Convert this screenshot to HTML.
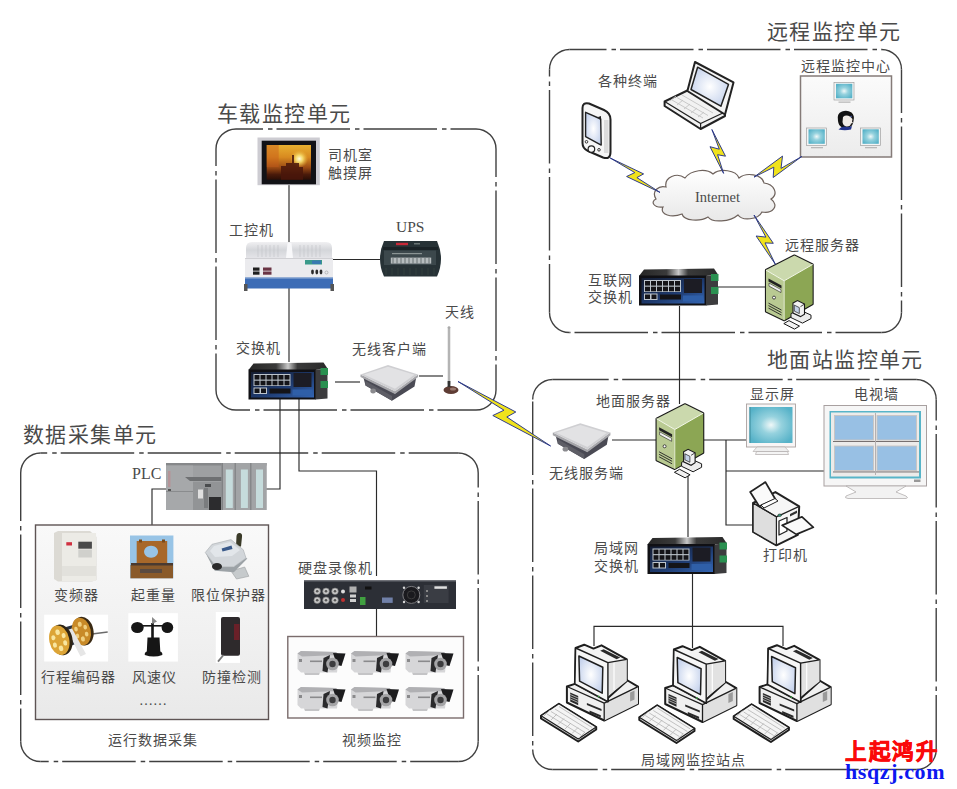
<!DOCTYPE html>
<html lang="zh-CN">
<head>
<meta charset="utf-8">
<style>
html,body{margin:0;padding:0;background:#fff;}
body{width:957px;height:789px;overflow:hidden;position:relative;font-family:"Liberation Serif",serif;}
svg{position:absolute;left:0;top:0;}
.t{font-family:"Liberation Serif",serif;fill:#4a4a4a;}
</style>
</head>
<body>
<svg width="957" height="789" viewBox="0 0 957 789">
<defs>
  <linearGradient id="gBlue" x1="0" y1="0" x2="1" y2="1">
    <stop offset="0" stop-color="#141c30"/><stop offset="0.55" stop-color="#1e3a6e"/><stop offset="1" stop-color="#3466b4"/>
  </linearGradient>
  <linearGradient id="gScreenO" x1="0" y1="0" x2="0" y2="1">
    <stop offset="0" stop-color="#e8a820"/><stop offset="0.45" stop-color="#c87818"/><stop offset="0.75" stop-color="#5a2a10"/><stop offset="1" stop-color="#2a1008"/>
  </linearGradient>
  <radialGradient id="gCyan" cx="0.5" cy="0.5" r="0.6">
    <stop offset="0" stop-color="#f0f8f8"/><stop offset="0.4" stop-color="#96d2de"/><stop offset="1" stop-color="#56b2c8"/>
  </radialGradient>
  <radialGradient id="gLcd" cx="0.5" cy="0.5" r="0.7">
    <stop offset="0" stop-color="#ffffff"/><stop offset="1" stop-color="#b8c8e8"/>
  </radialGradient>
  <linearGradient id="gPanel" x1="0" y1="0" x2="0" y2="1">
    <stop offset="0" stop-color="#f6f6f6"/><stop offset="1" stop-color="#ebebeb"/>
  </linearGradient>

  <!-- industrial switch 80x37 -->
  <linearGradient id="gTop" x1="0" y1="0" x2="1" y2="0">
    <stop offset="0" stop-color="#262626"/><stop offset="0.35" stop-color="#3a3a3a"/><stop offset="0.5" stop-color="#c8c8c8"/><stop offset="0.62" stop-color="#3a3a3a"/><stop offset="1" stop-color="#2a2a2a"/>
  </linearGradient>
  <g id="sw">
    <polygon points="0,7.5 5,1 75,0 79,6 67,7.5" fill="url(#gTop)"/>
    <rect x="0" y="7" width="67.5" height="30" fill="#101014"/>
    <rect x="2.5" y="9.5" width="63" height="25.5" fill="url(#gBlue)"/>
    <polygon points="67,7.5 79,6 79,36 67,37" fill="#3c3c3e"/>
    <rect x="72" y="5.5" width="7.5" height="7" fill="#2a9050"/>
    <rect x="72" y="18.5" width="7.5" height="7" fill="#2a9050"/>
    <g fill="#bcc4cc">
      <rect x="5" y="11.5" width="37" height="12"/>
      <rect x="5" y="25" width="13.5" height="6.5"/>
    </g>
    <g fill="#141418">
      <rect x="6" y="12.5" width="5" height="4.6"/><rect x="12" y="12.5" width="5" height="4.6"/><rect x="18" y="12.5" width="5" height="4.6"/><rect x="24" y="12.5" width="5" height="4.6"/><rect x="30" y="12.5" width="5" height="4.6"/><rect x="36" y="12.5" width="5" height="4.6"/>
      <rect x="6" y="18.2" width="5" height="4.6"/><rect x="12" y="18.2" width="5" height="4.6"/><rect x="18" y="18.2" width="5" height="4.6"/><rect x="24" y="18.2" width="5" height="4.6"/><rect x="30" y="18.2" width="5" height="4.6"/><rect x="36" y="18.2" width="5" height="4.6"/>
      <rect x="6" y="26" width="5" height="4.5"/><rect x="12.5" y="26" width="5" height="4.5"/>
      <rect x="21" y="26" width="21" height="5"/>
      <rect x="45" y="10.5" width="18" height="14" fill="#1c1c24"/>
    </g>
    <rect x="44" y="27" width="20" height="6" fill="#2f5fa8"/>
  </g>
<!-- wireless AP 60x37 -->
  <g id="ap">
    <polygon points="2.5,11 5,20.5 31.5,35.7 54,21.5 56,11 34.5,28.5" fill="#4a4a54"/>
    <polygon points="5,20.5 31.5,35.7 31.5,31 5,16" fill="#5e5e66"/>
    <polygon points="0,9.4 34.5,26.3 57.6,9.4 57.6,12 34.5,29 0,12" fill="#a6a6aa"/>
    <polygon points="0,9.4 27.5,0 57.6,9.4 34.5,26.3" fill="#cfcfd2"/>
    <polygon points="3.5,9.6 27.5,1.8 54,9.8 34.5,23.8" fill="#e2e2e4"/>
    <ellipse cx="12.6" cy="26" rx="2.8" ry="2.4" fill="#8a8a8e"/>
  </g>
<!-- green server 47x70 -->
  <g id="srv">
    <polygon points="0,14.5 28.4,0 46.6,8.9 46.6,48.4 18.2,64.6 0,56" fill="#9cb070" stroke="#1a1a1a" stroke-width="2.2" stroke-linejoin="round"/>
    <polygon points="0,14.5 28.4,0 46.6,8.9 18.2,25.2" fill="#cbd9ad"/>
    <polygon points="0,14.5 18.2,25.2 18.2,64.6 0,56" fill="#b9ca92"/>
    <polygon points="18.2,25.2 46.6,8.9 46.6,48.4 18.2,64.6" fill="#8ca654"/>
    <polyline points="0,14.5 18.2,25.2 46.6,8.9" fill="none" stroke="#f4f8ea" stroke-width="1"/>
    <line x1="18.2" y1="25.2" x2="18.2" y2="64.6" stroke="#f4f8ea" stroke-width="0.8"/>
    <polygon points="2.5,23 15.5,30 15.5,33 2.5,26" fill="#222"/>
    <polygon points="3,27.5 15,34 15,37 3,30.5" fill="#f2f2f2" stroke="#222" stroke-width="0.6"/>
    <circle cx="8" cy="42" r="1.5" fill="#fff" stroke="#222" stroke-width="0.8"/>
    <g stroke="#222" stroke-width="0.9">
      <line x1="2.5" y1="47.5" x2="15.5" y2="54.5"/><line x1="2.5" y1="50" x2="15.5" y2="57"/><line x1="2.5" y1="52.5" x2="15.5" y2="59.5"/>
    </g>
    <!-- mini pc -->
    <polygon points="25,58 33,54 45,59.5 45,63 36.5,67.5 25,62" fill="#ececec" stroke="#1a1a1a" stroke-width="1"/>
    <polygon points="27,47.5 31.5,45 38.5,48.5 38.5,58.5 34.5,61 27,57.5" fill="#f2f2f2" stroke="#1a1a1a" stroke-width="1.1"/>
    <polygon points="28.3,49.5 33.3,52 33.3,58 28.3,55.5" fill="#c4d2e8" stroke="#1a1a1a" stroke-width="0.7"/>
    <line x1="34.5" y1="51" x2="38.5" y2="48.5" stroke="#1a1a1a" stroke-width="0.8"/>
    <polygon points="17.8,68 23,65 33.5,70.5 28.5,73.5" fill="#f2f2f2" stroke="#1a1a1a" stroke-width="1"/>
  </g>

  <!-- CRT PC + keyboard -->
  <g id="pc" stroke-linejoin="round">
    <!-- base unit -->
    <polygon points="31.9,46.5 39.9,43.9 91.8,40 103,46.6 103,63.8 69.2,80.5 31.9,62.5" fill="#f0f0f0" stroke="#1e1e1e" stroke-width="2"/>
    <polygon points="69.2,63.2 103,46.6 103,63.8 69.2,80.5" fill="#e0e0e0"/>
    <polyline points="31.9,46.5 69.2,63.2 103,46.6" fill="none" stroke="#1e1e1e" stroke-width="1.3"/>
    <line x1="69.2" y1="63.2" x2="69.2" y2="80.5" stroke="#1e1e1e" stroke-width="1.3"/>
    <polygon points="35.2,52.5 43.2,56 43.2,65.2 35.2,61.6" fill="#2a2a2a"/>
    <g stroke="#ddd" stroke-width="0.7"><line x1="35.2" y1="54.5" x2="43.2" y2="58"/><line x1="35.2" y1="56.8" x2="43.2" y2="60.3"/><line x1="35.2" y1="59" x2="43.2" y2="62.5"/></g>
    <polygon points="51.9,63 66.5,69 66.5,71 51.9,65" fill="#2a2a2a"/>
    <polygon points="54.5,70.5 65.8,75.2 65.8,77.5 54.5,72.8" fill="#2a2a2a"/>
    <polygon points="95.1,52.5 99.5,50.5 99.5,59.5 95.1,61.5" fill="#9a9a9a"/>
    <!-- monitor -->
    <polygon points="40.6,8 49.2,4.7 58.5,8.6 66.5,5.3 91.8,19.3 91.8,41 72.9,58 72.9,61.5 39.9,43.9" fill="#f4f4f4" stroke="#1e1e1e" stroke-width="2"/>
    <polygon points="72.9,22.6 91.8,19.3 91.8,41 72.9,56" fill="#e2e2e2"/>
    <line x1="79" y1="22" x2="79" y2="50" stroke="#fff" stroke-width="1.2"/>
    <polygon points="40.6,8 72.9,22.6 72.9,61.5 39.9,43.9" fill="#f6f6f6" stroke="#1e1e1e" stroke-width="1.4"/>
    <polygon points="43.9,16 67.8,27.3 67.2,53.2 44.6,41.2" fill="url(#gLcd)" stroke="#1e1e1e" stroke-width="1.5"/>
    <polygon points="65.2,10.8 68.6,9.2 85.2,17.6 81.6,19.3" fill="#2a2a2a"/>
    <line x1="72.9" y1="22.6" x2="91.8" y2="19.3" stroke="#1e1e1e" stroke-width="1.2"/>
    <circle cx="63.6" cy="56.5" r="0.9" fill="#3a9a40"/>
    <!-- keyboard -->
    <polygon points="6,75.8 23.9,63.8 61.2,87.1 61.2,89.5 43.2,101.5 6,78.5" fill="#d8d8d8" stroke="#1e1e1e" stroke-width="2"/>
    <polygon points="6,75.8 23.9,63.8 61.2,87.1 43.2,99" fill="#f4f4f4" stroke="#1e1e1e" stroke-width="1.2"/>
    <g stroke="#b4b4b4" stroke-width="0.8" fill="none">
      <path d="M12,74 L46,95 M16,71.5 L50,92.5 M20,69 L54,90 M24,66.5 L57,87.5"/>
      <path d="M15,70 L9,76 M22,74 L16,80 M29,78.5 L23,84.5 M36,83 L30,89 M43,87.5 L37,93.5 M50,92 L44,98"/>
    </g>
  </g>
</defs>

<!-- unit boxes -->
<g fill="none" stroke="#404040" stroke-width="1.4">
  <path d="M216,149 A20,20 0 0 1 236,129 M476,129 A20,20 0 0 1 496,149 M496,390 A20,20 0 0 1 476,410 M236,410 A20,20 0 0 1 216,390"/>
  <path d="M236,129 L476,129" stroke-dasharray="73.5 5 4.5 4" stroke-dashoffset="46.5"/>
  <path d="M496,149 L496,390" stroke-dasharray="73.5 5 4.5 4" stroke-dashoffset="45.5"/>
  <path d="M236,410 L476,410" stroke-dasharray="73.5 5 4.5 4" stroke-dashoffset="59.5"/>
  <path d="M216,149 L216,390" stroke-dasharray="73.5 5 4.5 4" stroke-dashoffset="56.5"/>
  <path d="M549.5,69.5 A20,20 0 0 1 569.5,49.5 M881.5,49.5 A20,20 0 0 1 901.5,69.5 M901.5,312.5 A20,20 0 0 1 881.5,332.5 M569.5,332.5 A20,20 0 0 1 549.5,312.5"/>
  <path d="M569.5,49.5 L881.5,49.5" stroke-dasharray="73.5 5 4.5 4" stroke-dashoffset="36.5"/>
  <path d="M901.5,69.5 L901.5,312.5" stroke-dasharray="73.5 5 4.5 4" stroke-dashoffset="30.0"/>
  <path d="M569.5,332.5 L881.5,332.5" stroke-dasharray="73.5 5 4.5 4" stroke-dashoffset="82.0"/>
  <path d="M549.5,69.5 L549.5,312.5" stroke-dasharray="73.5 5 4.5 4" stroke-dashoffset="66.5"/>
  <path d="M532.7,399.5 A20,20 0 0 1 552.7,379.5 M916.2,379.5 A20,20 0 0 1 936.2,399.5 M936.2,749.5 A20,20 0 0 1 916.2,769.5 M552.7,769.5 A20,20 0 0 1 532.7,749.5"/>
  <path d="M552.7,379.5 L916.2,379.5" stroke-dasharray="73.5 5 4.5 4" stroke-dashoffset="17.5"/>
  <path d="M936.2,399.5 L936.2,749.5" stroke-dasharray="73.5 5 4.5 4" stroke-dashoffset="52.5"/>
  <path d="M552.7,769.5 L916.2,769.5" stroke-dasharray="73.5 5 4.5 4" stroke-dashoffset="28.5"/>
  <path d="M532.7,399.5 L532.7,749.5" stroke-dasharray="73.5 5 4.5 4" stroke-dashoffset="85.0"/>
  <path d="M20.7,473 A20,20 0 0 1 40.7,453 M458.2,453 A20,20 0 0 1 478.2,473 M478.2,741.5 A20,20 0 0 1 458.2,761.5 M40.7,761.5 A20,20 0 0 1 20.7,741.5"/>
  <path d="M40.7,453 L458.2,453" stroke-dasharray="73.5 5 4.5 4" stroke-dashoffset="67.0"/>
  <path d="M478.2,473 L478.2,741.5" stroke-dasharray="73.5 5 4.5 4" stroke-dashoffset="58.9"/>
  <path d="M40.7,761.5 L458.2,761.5" stroke-dasharray="73.5 5 4.5 4" stroke-dashoffset="65.5"/>
  <path d="M20.7,473 L20.7,741.5" stroke-dasharray="73.5 5 4.5 4" stroke-dashoffset="25.5"/>
</g>
<!-- connection lines -->
<g fill="none" stroke="#2a2a2a" stroke-width="1.15">
  <path d="M289 184V362"/>
  <path d="M333 259.5H380"/>
  <path d="M335 382H360"/>
  <path d="M419 376H443"/>
  <path d="M280 399V489H266"/>
  <path d="M166 489H152V525"/>
  <path d="M299 399V471H376.5V576"/>
  <path d="M376.5 609V636.5"/>
  <path d="M717 287H766"/>
  <path d="M679.5 306V404"/>
  <path d="M612 440H656"/>
  <path d="M702 440H746"/>
  <path d="M726 440V525H752"/>
  <path d="M726 471H824"/>
  <path d="M688 474V537"/>
  <path d="M692.5 574V648"/>
  <path d="M594 646V626.3H783V646"/>
</g>

<!-- DEVICES -->
<use href="#sw" x="248.5" y="362.5"/>
<use href="#sw" x="639" y="268.5"/>
<use href="#sw" x="647.5" y="537"/>
<use href="#ap" x="360.5" y="365"/>
<use href="#ap" x="552.8" y="423.2"/>
<use href="#srv" x="656.6" y="404.3"/>
<use href="#srv" x="766" y="255.6"/>
<use href="#pc" x="535" y="640"/>
<use href="#pc" x="633.3" y="641.5"/>
<use href="#pc" x="727.7" y="640.5"/>

<!-- touchscreen -->
<defs>
  <linearGradient id="gTS" x1="0" y1="0" x2="0" y2="1">
    <stop offset="0" stop-color="#e8b030"/><stop offset="0.35" stop-color="#d88a20"/><stop offset="0.65" stop-color="#9a4a14"/><stop offset="0.85" stop-color="#4a1a0a"/><stop offset="1" stop-color="#2a0e06"/>
  </linearGradient>
  <radialGradient id="gSun" cx="0.5" cy="0.5" r="0.5"><stop offset="0" stop-color="#fffce0"/><stop offset="0.4" stop-color="#f8e070" stop-opacity="0.9"/><stop offset="1" stop-color="#e8b030" stop-opacity="0"/></radialGradient>
</defs>
<g>
  <rect x="257.5" y="137.5" width="62.3" height="47.7" fill="#cdccd2"/>
  <rect x="261.7" y="140.7" width="54.3" height="43.6" fill="#121216"/>
  <rect x="266.7" y="145" width="44.3" height="34.7" fill="url(#gTS)"/>
  <rect x="266.7" y="145" width="12" height="22" fill="#c85a1a" opacity="0.45"/>
  <circle cx="299.3" cy="158.8" r="9" fill="url(#gSun)"/>
  <path d="M281,179.7 V166 h5 v-3 h6 v-8 h2 v8 h5 v4 h4 v12.7z" fill="#4a160a" opacity="0.85"/>
</g>
<!-- IPC -->
<defs>
  <linearGradient id="gIpcTop" x1="0" y1="0" x2="0" y2="1"><stop offset="0" stop-color="#f0f0f2"/><stop offset="0.5" stop-color="#d4d6da"/><stop offset="1" stop-color="#e4e4e8"/></linearGradient>
</defs>
<g>
  <path d="M246,258 V248 Q246,242 252,242 H326 Q332,242 332,248 V258Z" fill="url(#gIpcTop)"/>
  <g stroke="#c4c6ca" stroke-width="0.7"><path d="M258,245v12 M262,245v12 M266,245v12 M270,245v12 M274,245v12 M278,245v12 M300,245v12 M304,245v12 M308,245v12 M312,245v12 M316,245v12 M320,245v12"/></g>
  <path d="M286,258 L287.5,243 H291.5 L293,258Z" fill="#f8f8fa"/>
  <rect x="245" y="258" width="88" height="20" fill="#ebebee"/>
  <rect x="245" y="258" width="88" height="1" fill="#d0d0d4"/>
  <rect x="245" y="277.5" width="88" height="11" fill="#3c6cb6"/>
  <rect x="245" y="277.5" width="88" height="1" fill="#9ab4d8"/>
  <rect x="244" y="284" width="3.5" height="7" fill="#555"/><rect x="330.5" y="284" width="3.5" height="7" fill="#555"/>
  <rect x="253" y="267.5" width="6.5" height="3.2" fill="#1e1e1e"/><rect x="253" y="271.5" width="6.5" height="3.2" fill="#1e1e1e"/>
  <rect x="263" y="267.5" width="8.5" height="3.2" fill="#6a3444"/><rect x="263" y="271.5" width="8.5" height="3.2" fill="#6a3444"/>
  <rect x="305" y="260" width="17" height="4.5" fill="#3a9a8a"/>
  <rect x="312" y="260.5" width="9" height="3.5" fill="#3a7ab0"/>
  <ellipse cx="312.5" cy="272" rx="1.4" ry="2.4" fill="#2a2a2a"/><ellipse cx="316.8" cy="272" rx="1.4" ry="2.4" fill="#2a2a2a"/><ellipse cx="321" cy="272" rx="1.4" ry="2.4" fill="#2a2a2a"/>
  <circle cx="326.5" cy="272.5" r="1.5" fill="none" stroke="#999" stroke-width="0.6"/>
</g>
<!-- UPS -->
<g>
  <path d="M384,241 H437 Q441,250 441,258.5 Q441,268 437,276.5 H384 Q380,268 380,258.5 Q380,250 384,241Z" fill="#273236"/>
  <rect x="383" y="247" width="55" height="3" fill="#1a2226"/>
  <rect x="384" y="250.5" width="52" height="14.5" fill="#3c484c"/>
  <rect x="390.8" y="257.6" width="40.4" height="6" fill="#b6bcbe"/>
  <g stroke="#56605f" stroke-width="0.8"><path d="M393,258v5.5 M397,258v5.5 M401,258v5.5 M405,258v5.5 M409,258v5.5 M413,258v5.5 M417,258v5.5 M421,258v5.5 M425,258v5.5 M429,258v5.5"/></g>
  <rect x="392" y="253" width="30" height="1.2" fill="#8a9494"/>
  <rect x="396" y="242.8" width="12" height="2.4" fill="#c82838"/>
  <rect x="414" y="243" width="6" height="1.5" fill="#6a7474"/>
  <g stroke="#36423f" stroke-width="0.8"><path d="M386,268v7 M392,268v7 M398,268v7 M404,268v7 M410,268v7 M416,268v7 M422,268v7 M428,268v7 M434,268v7"/></g>
</g>
<!-- antenna -->
<g>
  <rect x="447.8" y="327" width="2.4" height="57" fill="#9a9a9a"/>
  <rect x="448.6" y="327" width="0.8" height="57" fill="#dcdcdc"/>
  <circle cx="449" cy="327.5" r="1.3" fill="#aaa"/>
  <ellipse cx="451" cy="390" rx="7.5" ry="4" fill="#5e3c34"/>
  <ellipse cx="453" cy="389" rx="3" ry="1.5" fill="#9a7a70"/>
  <rect x="447.6" y="381" width="2.8" height="6" fill="#333"/>
</g>
<!-- PLC -->
<g>
  <rect x="166" y="463" width="100.5" height="47" fill="#9ea0a2"/>
  <rect x="166" y="463" width="100.5" height="2.5" fill="#86888a"/>
  <rect x="166" y="465.5" width="27" height="44.5" fill="#a6a8aa"/>
  <rect x="168" y="471" width="2.5" height="16" fill="#b49498"/>
  <rect x="168" y="489" width="3" height="3" fill="#555"/>
  <rect x="166" y="491" width="30" height="1" fill="#8a8c8e"/>
  <polygon points="185,477 222,477 222,481 190,481" fill="#6e7072"/>
  <rect x="193" y="482" width="29" height="28" fill="#929496"/>
  <rect x="198" y="489.5" width="5" height="9" fill="#e0e0e0"/>
  <rect x="204" y="488" width="4" height="20" fill="#7a7c7e"/>
  <rect x="209" y="497" width="12" height="13" fill="#2c2c2e"/>
  <rect x="205" y="484" width="6" height="3" fill="#4a4c4e"/>
  <rect x="221.5" y="463" width="45" height="47" fill="#a2a4a6"/>
  <rect x="225.8" y="469.5" width="7" height="38.5" fill="#c6dcdc"/>
  <rect x="240.9" y="469.5" width="7" height="38.5" fill="#c6dcdc"/>
  <rect x="256" y="469.5" width="7" height="38.5" fill="#c6dcdc"/>
  <rect x="234.5" y="463" width="1.5" height="47" fill="#86888a"/><rect x="250" y="463" width="1.5" height="47" fill="#86888a"/>
  <rect x="221.5" y="463" width="1.5" height="47" fill="#808284"/>
</g>
<!-- DVR -->
<g>
  <rect x="304" y="580.5" width="152" height="28.5" fill="#2c2f36"/>
  <rect x="304" y="580.5" width="152" height="1.5" fill="#4a4d54"/>
  <g fill="#c8c8c8" stroke="#777" stroke-width="0.6"><circle cx="317.2" cy="591.3" r="3.3"/><circle cx="326" cy="591.3" r="3.3"/><circle cx="335" cy="591.3" r="3.3"/><circle cx="317.2" cy="600.2" r="3.3"/><circle cx="326" cy="600.2" r="3.3"/><circle cx="335" cy="600.2" r="3.3"/></g>
  <g fill="#555"><circle cx="317.2" cy="591.3" r="1.3"/><circle cx="326" cy="591.3" r="1.3"/><circle cx="335" cy="591.3" r="1.3"/><circle cx="317.2" cy="600.2" r="1.3"/><circle cx="326" cy="600.2" r="1.3"/><circle cx="335" cy="600.2" r="1.3"/></g>
  <circle cx="343" cy="591.5" r="2" fill="#ddd"/><circle cx="343" cy="600" r="2" fill="#c03030"/>
  <rect x="349.5" y="586.5" width="7" height="6" fill="#b0b0b0"/>
  <rect x="350" y="594.5" width="6" height="3" fill="#d0d0d0"/><rect x="350" y="599" width="6" height="3" fill="#d0d0d0"/>
  <rect x="360" y="597" width="5.5" height="8" fill="#40a040"/>
  <rect x="365" y="586.5" width="6.5" height="3" fill="#111"/>
  <rect x="382" y="597.5" width="10.7" height="5.4" fill="#7080a8"/>
  <circle cx="411.3" cy="594.9" r="8.5" fill="#1a1a1e" stroke="#7a7a7e" stroke-width="1"/>
  <circle cx="411.3" cy="594.9" r="4" fill="none" stroke="#444" stroke-width="0.8"/>
  <g fill="#d8d8d8"><circle cx="404" cy="587.8" r="1.2"/><circle cx="418.6" cy="587.8" r="1.2"/><circle cx="404" cy="602" r="1.2"/><circle cx="418.6" cy="602" r="1.2"/></g>
  <rect x="423.8" y="585" width="24.8" height="18" fill="#3a3d44"/>
  <rect x="434.4" y="586.3" width="12.5" height="2.5" fill="#e0e0e0"/>
  <rect x="426" y="590" width="2" height="2" fill="#888"/><rect x="426" y="595" width="2" height="2" fill="#888"/><rect x="426" y="600" width="2" height="2" fill="#888"/>
</g>
<!-- camera panel -->
<g>
  <rect x="287.8" y="636.5" width="175.7" height="81.5" fill="#fcfcfc" stroke="#7a6c6c" stroke-width="1.4"/>
  <g id="cam">
    <polygon points="297.5,653.5 301,651 336,652 339,655 337,672.5 301,672.5 297.5,669" fill="#d6d6d8"/>
    <polygon points="297.5,653.5 301,651 336,652 339,655 302,656.5" fill="#b0b0b3"/>
    <rect x="310" y="660.5" width="12" height="1.6" fill="#8a8a8c"/>
    <rect x="299" y="659" width="3" height="3" fill="#8a8a8c"/>
    <polygon points="304,672.5 320,672.5 319,675 305,675" fill="#c4c4c6"/>
    <polygon points="333,653 345.5,653.5 341.5,666 337,665" fill="#1c1c1e"/>
    <polygon points="323.5,658 330,655 327.5,672.5 322.5,671" fill="#2a2a2c"/>
    <circle cx="332.5" cy="664" r="6.3" fill="#a4a4a6"/>
    <circle cx="332.5" cy="664" r="3.2" fill="#3c3c3e"/>
  </g>
  <use href="#cam" x="53.5" y="0"/><use href="#cam" x="108" y="0"/>
  <use href="#cam" x="0" y="36"/><use href="#cam" x="53.5" y="36"/><use href="#cam" x="108" y="36"/>
</g>
<!-- sensors panel -->
<defs>
  <linearGradient id="gPanel3" x1="0" y1="0" x2="0" y2="1"><stop offset="0" stop-color="#f9f9f9"/><stop offset="0.6" stop-color="#f0f0f0"/><stop offset="1" stop-color="#e9e9e9"/></linearGradient>
  <radialGradient id="gGold" cx="0.45" cy="0.4" r="0.6"><stop offset="0" stop-color="#f8d870"/><stop offset="0.7" stop-color="#d49a28"/><stop offset="1" stop-color="#8a5a10"/></radialGradient>
</defs>
<g>
  <rect x="35.5" y="525" width="233" height="194.5" fill="url(#gPanel3)" stroke="#5e5454" stroke-width="1.4"/>
  <!-- inverter -->
  <polygon points="54,533 58,531 90,531 96.5,537 96.5,580 92,581.5 58,581.5 54,579" fill="#dcdad4"/>
  <rect x="62" y="533" width="34" height="48" fill="#ecebe6"/>
  <rect x="78.3" y="541.7" width="13.6" height="7" fill="#4a4a4a"/>
  <rect x="78.3" y="549.5" width="13.6" height="8" fill="#d0d0cc"/>
  <rect x="66.3" y="542.2" width="5.7" height="3.3" fill="#d03040"/>
  <rect x="62" y="566" width="34" height="10" fill="#e2e1dc"/>
  <!-- load sensor -->
  <rect x="130" y="535.5" width="43.4" height="42.8" fill="#98c4e6"/>
  <path d="M136.7,541 h30.5 v24.4 h-30.5z M151,545.8 a7,6 0 1,0 0.1,0z" fill="#a8682a" fill-rule="evenodd"/>
  <rect x="139" y="539.5" width="3" height="3" fill="#7a4a1a"/><rect x="162" y="539.5" width="3" height="3" fill="#7a4a1a"/>
  <rect x="130.5" y="565" width="42.5" height="13.3" fill="#8a5a2a"/>
  <rect x="140" y="569" width="22" height="4" fill="#5a4a40"/>
  <rect x="131" y="563" width="42" height="2.5" fill="#4a3a30"/>
  <!-- limit switch -->
  <path d="M236,546.5 L236.5,536 Q237,532.5 240,533 Q242.5,533.5 242,537 L241,546.5z" fill="#3a3a28"/>
  <polygon points="231,571 244.7,567 248.8,576.3 236.5,579" fill="#c6cacc" stroke="#9a9ea0" stroke-width="0.6"/>
  <polygon points="205.3,552.5 214.8,570.8 233.8,572.2 247.4,558.6 246,558 233.8,566.8 216.2,566.8" fill="#9ca2a6"/>
  <polygon points="205.3,552.5 212,544.3 231,539.6 243.3,549.8 246,558 233.8,566.8 216.2,566.8" fill="#d2d6da" stroke="#a8acb0" stroke-width="0.6"/>
  <polygon points="210,551 214,546 230,542 240,550 232,556 215,557" fill="#e2e6ea"/>
  <polygon points="221.6,548.5 231.5,545.5 232.5,549 222.5,551.5" fill="#3a5a8a"/>
  <ellipse cx="217" cy="566.5" rx="5" ry="3.6" fill="#2a2a2a"/>
  <!-- encoder -->
  <rect x="44.2" y="614.7" width="63.9" height="46.8" fill="#ffffff"/>
  <line x1="88" y1="634.5" x2="107.7" y2="632" stroke="#6a6a6a" stroke-width="1.4"/>
  <polygon points="66,627 80,623 84,641 70,646" fill="#2a3240"/>
  <g transform="rotate(-12 81.8 631.4)">
    <ellipse cx="83" cy="631.4" rx="10.5" ry="14.5" fill="#3a2a14"/>
    <ellipse cx="81.3" cy="631.4" rx="9.5" ry="14" fill="#c88a28"/>
    <g fill="#f0d080"><ellipse cx="81.3" cy="624" rx="2" ry="2.6"/><ellipse cx="86" cy="628" rx="1.8" ry="2.4"/><ellipse cx="86" cy="635" rx="1.8" ry="2.4"/><ellipse cx="81.3" cy="639" rx="2" ry="2.6"/><ellipse cx="76.6" cy="635" rx="1.8" ry="2.4"/><ellipse cx="76.6" cy="628" rx="1.8" ry="2.4"/></g>
  </g>
  <polygon points="67,630 72,628.5 86,654 80.5,656.5" fill="#e6e6e6"/>
  <g transform="rotate(-12 59.6 640.2)">
    <ellipse cx="61.5" cy="640.2" rx="11" ry="15.5" fill="#2e2414"/>
    <ellipse cx="59.3" cy="640.2" rx="10" ry="15" fill="#dca436"/>
    <g fill="#f8e6a0"><ellipse cx="59.3" cy="632" rx="2.2" ry="2.8"/><ellipse cx="64.5" cy="636.5" rx="2" ry="2.6"/><ellipse cx="64.5" cy="644" rx="2" ry="2.6"/><ellipse cx="59.3" cy="648.5" rx="2.2" ry="2.8"/><ellipse cx="54" cy="644" rx="2" ry="2.6"/><ellipse cx="54" cy="636.5" rx="2" ry="2.6"/></g>
  </g>
<!-- anemometer -->
  <rect x="128.3" y="613.2" width="49.6" height="48.4" fill="#ffffff"/>
  <g fill="#161616">
    <ellipse cx="137.4" cy="627.5" rx="6.3" ry="5.6"/>
    <ellipse cx="167.4" cy="627.5" rx="5.8" ry="5.6"/>
    <rect x="140" y="625" width="25" height="1.6"/>
    <rect x="151.2" y="623" width="2.6" height="15"/>
    <path d="M147.5,637.5 h12 l0.8,14 q2.5,1 2,3.5 q-8.5,3 -17.5,0 q-0.5,-2.5 2,-3.5z"/>
  </g>
  <polygon points="152,617 157,621.5 152,624" fill="#8a8a8a"/>
  <!-- photo sensor -->
  <rect x="215.8" y="612" width="24.2" height="50.9" fill="#ffffff"/>
  <rect x="221" y="617.1" width="19" height="38.6" rx="2" fill="#2e2a2c"/>
  <rect x="234" y="624" width="5.5" height="16" fill="#6a2028"/>
  <path d="M223.5,655 L218,661.6" stroke="#777" stroke-width="1.8"/>
</g>
<!-- desktop monitor -->
<g>
  <rect x="746.5" y="404" width="49" height="43" fill="#f8f6f6" stroke="#aaa2a0" stroke-width="0.9"/>
  <rect x="749.5" y="407" width="43" height="36" fill="url(#gCyan)"/>
  <rect x="749.5" y="407" width="1" height="36" fill="#3a8a9a"/>
  <polygon points="757,447 785,447 789,451.5 753,451.5" fill="#eeeeee" stroke="#b8b2b0" stroke-width="0.7"/>
  <polygon points="756.5,451.5 787.5,451.5 788.5,454.5 755.5,454.5" fill="#f4f4f4" stroke="#b0aaaa" stroke-width="0.7"/>
</g>
<!-- TV wall -->
<g>
  <rect x="824" y="405.5" width="102.5" height="80.5" fill="#f6f6f6" stroke="#a8a0a0" stroke-width="1"/>
  <rect x="829.5" y="411" width="91.5" height="67.5" fill="#58b4c8"/>
  <rect x="831" y="412.5" width="88" height="64" fill="#ecebea"/>
  <g fill="#98c0e4" stroke="#c8c4c2" stroke-width="0.9">
    <rect x="834.5" y="415.5" width="39" height="24.5"/><rect x="877" y="415.5" width="39.5" height="24.5"/>
    <rect x="834.5" y="446" width="39" height="24.5"/><rect x="877" y="446" width="39.5" height="24.5"/>
  </g>
  <g fill="#6a6262"><rect x="833" y="441" width="42" height="0.9"/><rect x="876" y="441" width="43" height="0.9"/><rect x="833" y="471.5" width="42" height="0.9"/><rect x="876" y="471.5" width="43" height="0.9"/></g>
  <rect x="875.2" y="413" width="0.8" height="62" fill="#a8a2a2"/>
  <rect x="914" y="479.5" width="6.5" height="2.5" fill="#999"/>
  <path d="M846,486 L856,492 L846,496 Q844,498 848,498.5 H906 Q909,498 906,496 L896,492 L906,486Z" fill="#f2f2f2" stroke="#b4b0b0" stroke-width="0.8"/>
</g>
<!-- printer -->
<g stroke="#222" stroke-linejoin="round">
  <polygon points="753.1,503 775.4,492.1 799.2,506.4 797.8,534.9 776.4,545.3 753.1,532" fill="#f6f6f6" stroke-width="2"/>
  <polygon points="753.1,503 776.4,516.8 776.4,545.3 753.1,532" fill="#dedede" stroke-width="1.2"/>
  <polyline points="753.1,503 776.4,516.8 799.2,506.4" fill="none" stroke-width="1.3"/>
  <polygon points="779,521 787,517.5 787,531 779,535" fill="#fff" stroke-width="1.3"/>
  <polygon points="750.2,492.1 765.4,482.1 775.4,499.2 759.3,506.4" fill="#fafafa" stroke-width="1.8"/>
  <polygon points="761,505 775,498.5 778,501 764,508" fill="#fff" stroke-width="1"/>
  <polygon points="782.1,525.4 802,516.8 813.4,527.3 796.3,534.4" fill="#fafafa" stroke-width="1.7"/>
  <polygon points="790,514 797,510.5 797,513 790,516.5" fill="#333" stroke="none"/>
  <ellipse cx="779.7" cy="515.2" rx="1.8" ry="1.2" fill="#3aa080" stroke="#222" stroke-width="0.6"/>
</g>
<!-- cloud -->
<defs><linearGradient id="gCloud" x1="0" y1="0" x2="0" y2="1"><stop offset="0" stop-color="#ffffff"/><stop offset="1" stop-color="#e8e8e8"/></linearGradient></defs>
<path d="M656,199 C651,191 659,185 666,187 C664,177 677,172 685,178 C691,170 706,168 713,174 C720,168 736,170 739,178 C746,172 762,174 764,183 C774,184 779,194 771,199 C780,206 772,214 762,212 C758,220 742,221 738,215 C730,222 712,223 708,217 C700,222 684,221 682,214 C672,218 659,215 663,207 C654,208 650,202 656,199Z" fill="url(#gCloud)" stroke="#6e625c" stroke-width="1.2"/>
<!-- laptop -->
<g stroke="#222" stroke-linejoin="round">
  <polygon points="664.6,101.5 687.4,90.5 725,112 725,116 700.6,129 664.6,106" fill="#f2f2f2" stroke-width="2"/>
  <polyline points="664.6,101.5 700.6,123.5 725,112" fill="none" stroke-width="1.3"/>
  <line x1="700.6" y1="123.5" x2="700.6" y2="129" stroke-width="1.2"/>
  <g stroke="#c4c4c4" stroke-width="0.9" fill="none">
    <path d="M672,100 L703,118 M677,97.5 L708,115.5 M682,95 L713,113"/>
    <path d="M676,96 L670,101 M683,100 L677,105 M690,104 L684,109 M697,108 L691,113 M704,112 L698,117"/>
  </g>
  <polygon points="695,62 733.5,82.4 725,114.5 687.4,91" fill="#f4f4f4" stroke-width="2"/>
  <polygon points="697.6,67.2 728.5,84.4 720.9,106.2 691,89.5" fill="url(#gLcd)" stroke-width="1.5"/>
</g>
<!-- PDA -->
<g stroke="#222" stroke-linejoin="round">
  <path d="M582.5,108 Q582.5,102 589,103.5 L604,110 Q610.5,113 610.5,119.5 L610.5,152 Q610.5,160 603,157.5 L588,151 Q582.5,148.5 582.5,143Z" fill="#f6f6f6" stroke-width="2"/>
  <rect x="604" y="120" width="4.5" height="33" fill="#dcdcdc" stroke="none"/>
  <polygon points="585.6,112.3 600.7,119 601.2,145.1 585.6,136.7" fill="url(#gLcd)" stroke-width="1.4"/>
  <polygon points="598,117 601,116 601,121" fill="#222" stroke="none"/>
  <circle cx="591.4" cy="149.1" r="3.3" fill="#fafafa" stroke-width="1.2"/>
  <circle cx="586.5" cy="141.8" r="1.3" fill="#fafafa" stroke-width="0.9"/>
  <circle cx="599" cy="149.8" r="1.3" fill="#fafafa" stroke-width="0.9"/>
</g>
<!-- remote center -->
<defs>
  <linearGradient id="gPanel2" x1="0" y1="0" x2="0" y2="1"><stop offset="0" stop-color="#fbfbfb"/><stop offset="1" stop-color="#ececec"/></linearGradient>
</defs>
<g>
  <rect x="800.5" y="76" width="91" height="81" fill="url(#gPanel2)" stroke="#857b78" stroke-width="1.5"/>
  <g id="mini">
    <rect x="834" y="82.5" width="20" height="17.5" fill="#f4f4f4" stroke="#a0a0a0" stroke-width="0.7"/>
    <rect x="836" y="83.8" width="16.3" height="14.5" fill="url(#gCyan)"/>
    <rect x="838.5" y="101.5" width="12" height="1.3" fill="#b8b8b8"/>
  </g>
  <use href="#mini" x="-27.5" y="45.5"/><use href="#mini" x="26.5" y="45.5"/>
  <path d="M838,121 Q836.5,113 842,111.5 Q847,109.5 851.5,112.5 Q855,115.5 853.5,121 Q853,126 849,127.5 L842,127.5 Q838.5,125.5 838,121z" fill="#121212"/>
  <path d="M843,117 Q846,114.5 850,116.5 L852.5,119 L852,121.5 L853,123 L851,123.5 Q850.5,127 846,126.5 Q843,125.5 842.5,122z" fill="#f0ebe6"/>
  <path d="M849.5,116.5 L851.5,115.5 L852,117.5z" fill="#4a5aa0"/>
  <path d="M838.5,129.5 Q842,125.5 847,127 Q850,127 852,126 L851,129.5 Q845,131 838.5,129.5z" fill="#22338a"/>
</g>
<!-- bolts -->
<g fill="#f0e21c" stroke="#26348a" stroke-width="0.95" stroke-linejoin="miter">
<polygon points="458.0,381.5 515.8,412.0 506.8,417.0 550.6,446.0 492.8,415.5 504.0,410.2"/>
<polygon points="610.2,158.0 643.6,173.9 636.9,177.6 660.0,192.4 626.6,176.5 634.8,172.6"/>
<polygon points="711.9,129.5 725.5,156.2 717.6,154.7 723.6,173.4 710.0,146.7 719.3,149.2"/>
<polygon points="801.7,156.5 773.2,177.5 773.8,167.2 754.0,177.1 782.5,156.1 781.0,168.4"/>
<polygon points="754.0,215.0 773.3,243.3 765.0,242.9 775.4,264.3 756.1,236.0 765.9,237.1"/>
</g>
<!-- labels -->
<g class="t" font-size="14" letter-spacing="1">
  <text x="327.5" y="159.5">司机室</text>
  <text x="327.5" y="177.5">触摸屏</text>
  <text x="229" y="235">工控机</text>
  <text x="236" y="353">交换机</text>
  <text x="352" y="354.3">无线客户端</text>
  <text x="445" y="317">天线</text>
  <text x="54" y="599.5">变频器</text>
  <text x="131" y="599.5">起重量</text>
  <text x="191" y="599.5">限位保护器</text>
  <text x="40.7" y="682">行程编码器</text>
  <text x="132" y="682">风速仪</text>
  <text x="202" y="682">防撞检测</text>
  <text x="139" y="705" letter-spacing="0">……</text>
  <text x="107.5" y="744.5">运行数据采集</text>
  <text x="298" y="573.3">硬盘录像机</text>
  <text x="342" y="745.2">视频监控</text>
  <text x="597.8" y="86.3">各种终端</text>
  <text x="801" y="71.4">远程监控中心</text>
  <text x="785" y="250.2">远程服务器</text>
  <text x="587.8" y="284.6">互联网</text>
  <text x="587.8" y="301.8">交换机</text>
  <text x="595.7" y="406">地面服务器</text>
  <text x="548.5" y="477.5">无线服务端</text>
  <text x="750" y="398.7">显示屏</text>
  <text x="854" y="398.7">电视墙</text>
  <text x="763" y="559.9">打印机</text>
  <text x="593.7" y="552.7">局域网</text>
  <text x="593.7" y="570.5">交换机</text>
  <text x="641.4" y="764.5">局域网监控站点</text>
</g>
<g class="t" style="font-family:'Liberation Serif',serif" fill="#222">
  <text x="396" y="232" font-size="15.5">UPS</text>
  <text x="132" y="479" font-size="16">PLC</text>
  <text x="695" y="202" font-size="14.5">Internet</text>
</g>
<g font-family="Liberation Serif" font-weight="bold">
  <text x="845" y="758.5" font-size="21.5" letter-spacing="1.5" font-weight="900" fill="#fa0a0a" stroke="#fa0a0a" stroke-width="0.7">上起鸿升</text>
  <text x="845" y="778.6" font-size="22" letter-spacing="0.6" fill="#0c18f0">hsqzj.com</text>
</g>
<!-- titles -->
<g class="t" font-size="21" letter-spacing="1.4">
  <text x="217" y="121">车载监控单元</text>
  <text x="767" y="39">远程监控单元</text>
  <text x="767" y="367">地面站监控单元</text>
  <text x="23" y="442">数据采集单元</text>
</g>
</svg>
</body>
</html>
